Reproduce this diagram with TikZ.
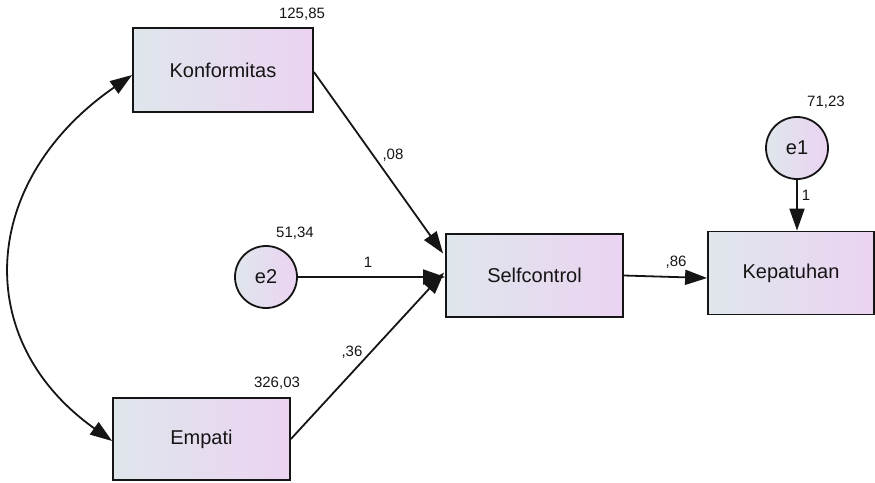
\documentclass[tikz,border=0pt]{standalone}
\usepackage{fontspec}
\setmainfont{Liberation Sans}
\usetikzlibrary{arrows.meta,calc}
\definecolor{boxL}{HTML}{DFE6EC}
\definecolor{boxR}{HTML}{EBD3F1}
\definecolor{ink}{HTML}{151515}
\tikzset{
  var/.style={draw=ink, line width=1.8pt, left color=boxL, right color=boxR, inner sep=0pt,
    font=\fontsize{20}{23}\selectfont, text=ink},
  err/.style={draw=ink, line width=1.8pt, circle, left color=boxL, right color=boxR, inner sep=0pt,
    minimum size=62pt, font=\fontsize{20}{23}\selectfont, text=ink},
  num/.style={inner sep=0pt, font=\fontsize{15}{17}\selectfont, text=ink},
  path1/.style={draw=ink, line width=1.8pt, -{Triangle[length=22pt,width=15pt]}},
  path2/.style={draw=ink, line width=1.8pt, {Triangle[length=22pt,width=15pt]}-{Triangle[length=22pt,width=15pt]}}
}
\begin{document}
\begin{tikzpicture}[x=1pt,y=-1pt]
\useasboundingbox (0,0) rectangle (875,482);
\node[var, minimum width=180pt, minimum height=84pt] (kon) at (223,70) {Konformitas};
\node[var, minimum width=177pt, minimum height=82pt] (emp) at (201.5,439) {Empati};
\node[var, minimum width=177pt, minimum height=83pt] (sc) at (534.5,275.5) {Selfcontrol};
\node[var, minimum width=166pt, minimum height=83pt] (kep) at (791,273) {Kepatuhan};
\node[err] (e2) at (266,277) {e2};
\node[err] (e1) at (797,148) {e1};

\node[num] (v1) at (302,14) {125,85};
\node[num] (v2) at (277,383) {326,03};
\node[num] (v3) at (295,233) {51,34};
\node[num] (v4) at (826,102) {71,23};
\node[num] (w1) at (393,155) {,08};
\node[num] (w2) at (368,262) {1};
\node[num] (w3) at (352,352) {,36};
\node[num] (w4) at (676,262) {,86};
\node[num] (w5) at (806,195) {1};

\draw[path1] (kon.east |- 0,72) -- ($(sc.west)+(-2,-22)$);
\draw[path1] (emp.east) -- ($(sc.west)+(-1,-3)$);
\draw[path1] (e2.east) -- (e2.east -| sc.west);
\draw[path1] (sc.east) -- ($(kep.west)+(0,5)$);
\draw[path1] (e1.south) -- (e1.south |- kep.north);
\draw[path2] ([yshift=-5pt]kon.west) .. controls (-20,180) and (-30,340) .. ([yshift=-2pt]emp.west);
\end{tikzpicture}
\end{document}
